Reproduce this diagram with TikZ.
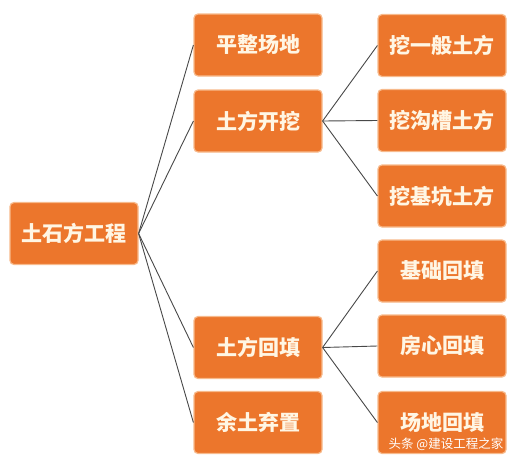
\documentclass[tikz,border=0pt]{standalone}
\usepackage{fontspec}
\newfontfamily\cjk{Noto Sans CJK SC}
\definecolor{boxorange}{RGB}{236,118,44}
\definecolor{boxedge}{RGB}{247,186,140}
\definecolor{textcream}{RGB}{255,246,228}
\definecolor{linkgray}{RGB}{72,72,72}
\tikzset{
  box/.style={fill=boxorange,draw=boxedge,line width=1.2pt,rounded corners=4pt,
    minimum width=128pt,minimum height=62pt,inner sep=0pt,
    text=textcream,font=\cjk\bfseries\fontsize{21}{21}\selectfont},
  link/.style={linkgray,line width=0.9pt}
}
\begin{document}
\begin{tikzpicture}[x=1pt,y=-1pt]
\useasboundingbox (0,0) rectangle (518,461);
% root
\node[box] (root) at (74,233.5) {土石方工程};
% second level
\node[box] (pingzheng) at (258,45) {平整场地};
\node[box] (kaiwa) at (258,121) {土方开挖};
\node[box] (huitian) at (258,347.5) {土方回填};
\node[box] (qizhi) at (258,422.5) {余土弃置};
% third level
\node[box] (yiban) at (442,45.5) {挖一般土方};
\node[box] (goucao) at (442,120.5) {挖沟槽土方};
\node[box] (jikeng) at (442,196) {挖基坑土方};
\node[box] (jichu) at (442,271) {基础回填};
\node[box] (fangxin) at (442,346) {房心回填};
\node[box] (changdi) at (442,422.5) {场地回填};
% connectors
\foreach \n in {pingzheng,kaiwa,huitian,qizhi}
  \draw[link] (root.east) -- (\n.west);
\foreach \n in {yiban,goucao,jikeng}
  \draw[link] (kaiwa.east) -- (\n.west);
\foreach \n in {jichu,fangxin,changdi}
  \draw[link] (huitian.east) -- (\n.west);
% watermark
\node[text=white,font=\cjk\fontsize{12.5}{12.5}\selectfont,inner sep=0pt] (mark) at (446,444) {头条 @建设工程之家};
\end{tikzpicture}
\end{document}
